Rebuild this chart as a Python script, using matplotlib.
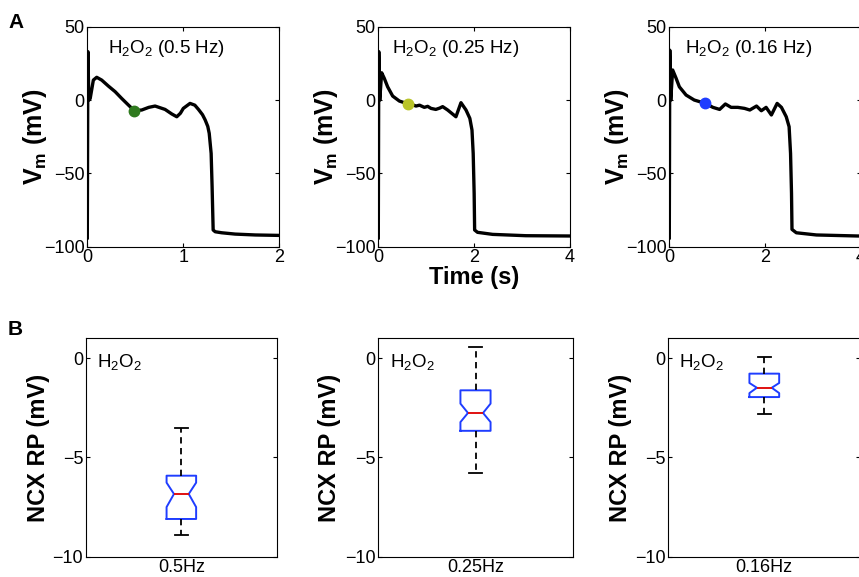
import matplotlib
matplotlib.use('Agg')
import matplotlib.pyplot as plt

plt.rcParams['font.family'] = ['Liberation Sans', 'DejaVu Sans']
plt.rcParams['mathtext.fontset'] = 'custom'
plt.rcParams['mathtext.rm'] = 'Liberation Sans'
plt.rcParams['mathtext.bf'] = 'Liberation Sans:bold'
plt.rcParams['mathtext.default'] = 'regular'

# Panel A: action potentials (time in s, Vm in mV)
t_05 = [0, 0.006, 0.016, 0.03, 0.063, 0.098, 0.15, 0.22, 0.29, 0.358, 0.428, 0.49, 0.567,
        0.64, 0.706, 0.81, 0.88, 0.932, 0.97, 1.0, 1.07, 1.12, 1.158, 1.2, 1.228, 1.255,
        1.27, 1.29, 1.30, 1.311, 1.332, 1.4, 1.54, 1.75, 2.0]
v_05 = [-94, 33, 0, 1, 13.6, 15.5, 13.6, 9.5, 5.7, 1.1, -3.4, -7.3, -6.8,
        -5, -4.1, -6.4, -9.5, -11.4, -9, -5.7, -2.3, -3.5, -6.4, -10, -13.6, -18,
        -22.7, -36.4, -59, -88.6, -89.8, -90.5, -91.4, -92, -92.3]

t_025 = [0, 0.01, 0.03, 0.07, 0.125, 0.195, 0.3, 0.44, 0.626, 0.72, 0.786, 0.86, 0.96,
         1.03, 1.10, 1.2, 1.28, 1.343, 1.447, 1.62, 1.725, 1.83, 1.91, 1.955, 1.98, 2.0,
         2.01, 2.07, 2.386, 3.08, 4.0]
v_025 = [-94, 33, 0, 18.6, 14.8, 9, 2.7, -0.7, -2.7, -3.3, -4.1, -3.5, -5.0,
         -4.3, -5.7, -6.4, -5.5, -4.5, -6.8, -11.4, -1.8, -6.8, -12.5, -20.5, -36.4, -63.6,
         -88.6, -90.2, -91.6, -92.5, -92.7]

t_016 = [0, 0.01, 0.03, 0.07, 0.14, 0.21, 0.35, 0.52, 0.754, 0.91, 1.05, 1.17, 1.29,
         1.43, 1.57, 1.68, 1.82, 1.92, 2.02, 2.13, 2.25, 2.34, 2.44, 2.50, 2.53, 2.55,
         2.56, 2.65, 3.07, 3.93, 4.0]
v_016 = [-94, 34, 0, 20.5, 15, 9, 3.4, 0, -2.3, -5, -6.4, -2.7, -5,
         -5, -5.7, -6.8, -4.1, -7.3, -5, -10.2, -2.3, -5, -11.4, -18.2, -36.4, -63.6,
         -88.2, -90.5, -92, -92.7, -92.7]

marker_t = [0.49, 0.626, 0.754]
marker_v = [-7.3, -2.7, -2.3]
marker_colors = ['#2f7a1e', '#b9c42a', '#1f3dff']
titles_a = ['H$_2$O$_2$ (0.5 Hz)', 'H$_2$O$_2$ (0.25 Hz)', 'H$_2$O$_2$ (0.16 Hz)']
xmax_a = [2, 4, 4]
xticks_a = [[0, 1, 2], [0, 2, 4], [0, 2, 4]]

# Panel B: NCX reverse-mode potential box stats (mV)
rates_b = ['0.5Hz', '0.25Hz', '0.16Hz']
whislo = [-8.91, -5.77, -2.83]
q1 = [-8.1, -3.66, -1.96]
med = [-6.84, -2.76, -1.49]
q3 = [-5.92, -1.62, -0.78]
whishi = [-3.54, 0.55, 0.08]
cilo = [-7.5, -3.22, -1.76]
cihi = [-6.27, -2.29, -1.25]

W, H = 859, 577
fig = plt.figure(figsize=(W / 100, H / 100), dpi=100)

def px_axes(left, top, right, bottom):
    return fig.add_axes([left / W, 1 - bottom / H, (right - left) / W, (bottom - top) / H])

def style(ax):
    ax.tick_params(direction='in', top=True, right=True, length=3, width=0.8,
                   labelsize=13, pad=2)
    for s in ax.spines.values():
        s.set_linewidth(0.8)

traces = [(t_05, v_05), (t_025, v_025), (t_016, v_016)]
a_left = [87.3, 378.3, 669.3]
a_right = [279.3, 570.0, 861.0]
for i in range(3):
    ax = px_axes(a_left[i], 26.7, a_right[i], 246.7)
    t, v = traces[i]
    ax.plot(t, v, color='black', lw=2.4, solid_joinstyle='round')
    ax.plot(marker_t[i], marker_v[i], marker='o', ms=7.5, color=marker_colors[i])
    ax.set_xlim(0, xmax_a[i])
    ax.set_ylim(-100, 50)
    ax.set_xticks(xticks_a[i])
    ax.set_yticks([-100, -50, 0, 50])
    style(ax)
    ax.set_ylabel(r'V$_\mathbf{m}$ (mV)', fontsize=18, fontweight='bold')
    ax.yaxis.set_label_coords(-0.2, 0.5)
    ax.text([0.108, 0.07, 0.082][i], 0.879, titles_a[i], transform=ax.transAxes,
            fontsize=13.5, va='baseline')
    if i == 1:
        ax.set_xlabel('Time (s)', fontsize=17, fontweight='bold', labelpad=0)

b_left = [86.0, 378.3, 668.3]
b_right = [276.7, 572.7, 860.3]
for i in range(3):
    ax = px_axes(b_left[i], 338.3, b_right[i], 556.7)
    stats = [dict(med=med[i], q1=q1[i], q3=q3[i], whislo=whislo[i], whishi=whishi[i],
                  cilo=cilo[i], cihi=cihi[i], fliers=[], label=rates_b[i])]
    ax.bxp(stats, positions=[1], widths=0.155, capwidths=[0.065], shownotches=True,
           showfliers=False,
           boxprops=dict(color='#1f3dff', lw=1.4),
           medianprops=dict(color='#e01010', lw=1.4),
           whiskerprops=dict(color='black', lw=1.3, linestyle=(0, (3.5, 2.5))),
           capprops=dict(color='black', lw=1.3))
    ax.set_xlim(0.5, 1.5)
    ax.set_ylim(-10, 1)
    ax.set_yticks([-10, -5, 0])
    style(ax)
    ax.tick_params(axis='x', length=0, pad=1.5)
    ax.set_ylabel('NCX RP (mV)', fontsize=17, fontweight='bold')
    ax.yaxis.set_label_coords(-0.19, 0.5)
    ax.text([0.056, 0.06, 0.057][i], 0.87, 'H$_2$O$_2$', transform=ax.transAxes,
            fontsize=13.5, va='baseline')

fig.text(8 / W, 1 - 28 / H, 'A', fontsize=15, fontweight='bold')
fig.text(8 / W, 1 - 335 / H, 'B', fontsize=15, fontweight='bold')

fig.savefig('out.png', dpi=100)
